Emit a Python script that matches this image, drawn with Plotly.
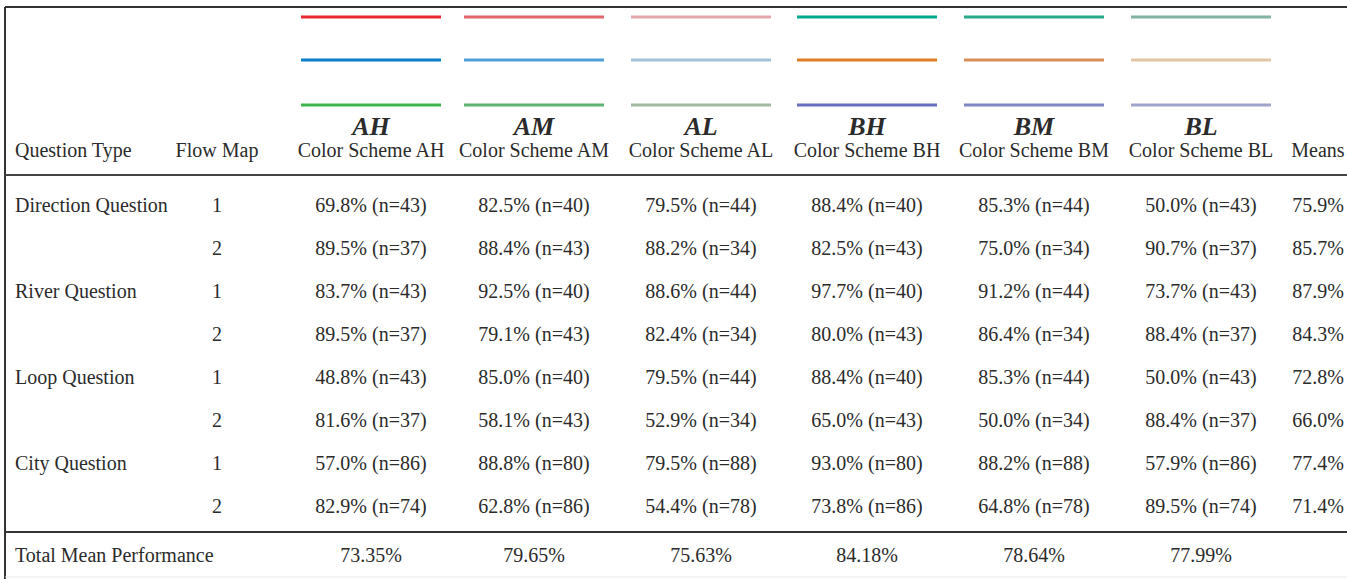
import plotly.graph_objects as go

# ---------------- data ----------------
question_types = ["Direction Question", "", "River Question", "", "Loop Question", "", "City Question", ""]
flow_maps = ["1", "2", "1", "2", "1", "2", "1", "2"]

scheme_codes = ["AH", "AM", "AL", "BH", "BM", "BL"]
scheme_labels = ["Color Scheme AH", "Color Scheme AM", "Color Scheme AL",
                 "Color Scheme BH", "Color Scheme BM", "Color Scheme BL"]

pct_AH = [69.8, 89.5, 83.7, 89.5, 48.8, 81.6, 57.0, 82.9]
n_AH = [43, 37, 43, 37, 43, 37, 86, 74]
pct_AM = [82.5, 88.4, 92.5, 79.1, 85.0, 58.1, 88.8, 62.8]
n_AM = [40, 43, 40, 43, 40, 43, 80, 86]
pct_AL = [79.5, 88.2, 88.6, 82.4, 79.5, 52.9, 79.5, 54.4]
n_AL = [44, 34, 44, 34, 44, 34, 88, 78]
pct_BH = [88.4, 82.5, 97.7, 80.0, 88.4, 65.0, 93.0, 73.8]
n_BH = [40, 43, 40, 43, 40, 43, 80, 86]
pct_BM = [85.3, 75.0, 91.2, 86.4, 85.3, 50.0, 88.2, 64.8]
n_BM = [44, 34, 44, 34, 44, 34, 88, 78]
pct_BL = [50.0, 90.7, 73.7, 88.4, 50.0, 88.4, 57.9, 89.5]
n_BL = [43, 37, 43, 37, 43, 37, 86, 74]

means = [75.9, 85.7, 87.9, 84.3, 72.8, 66.0, 77.4, 71.4]
total_mean = [73.35, 79.65, 75.63, 84.18, 78.64, 77.99]

# colour swatches per scheme (top, middle, bottom)
colors_top = ["#E8282D", "#E0676A", "#E6A7AC", "#00A98B", "#2BAA8B", "#82B2A0"]
colors_mid = ["#0C7FCC", "#4C9FD8", "#A0C4D6", "#E07C22", "#DA8E57", "#E2C6A3"]
colors_bot = ["#3DB54B", "#5DB371", "#9FBA9E", "#6670BF", "#7E86C6", "#A0A4CD"]

pcts = [pct_AH, pct_AM, pct_AL, pct_BH, pct_BM, pct_BL]
ns = [n_AH, n_AM, n_AL, n_BH, n_BM, n_BL]

# ---------------- layout geometry ----------------
W, H = 1347, 579
col_x = [371, 534, 701, 867, 1034, 1201]
means_x = 1318
flow_x = 217
left_x = 15
half_len = 70
swatch_y = [17, 60, 105]
code_y = 128
label_y = 152
row_y = [207 + 43 * i for i in range(len(flow_maps))]
total_y = 557

TXT = "#2b2b2b"
FONT = "Liberation Serif"
FS = 20

fig = go.Figure()

# swatch lines
for i in range(len(scheme_codes)):
    for yy, cols in zip(swatch_y, [colors_top, colors_mid, colors_bot]):
        fig.add_trace(go.Scatter(
            x=[col_x[i] - half_len, col_x[i] + half_len], y=[yy, yy],
            mode="lines", line=dict(color=cols[i], width=3),
            hoverinfo="skip", showlegend=False))

# header codes (bold italic)
fig.add_trace(go.Scatter(
    x=col_x, y=[code_y] * len(col_x), mode="text",
    text=["<b><i>%s</i></b>" % c for c in scheme_codes],
    textposition="middle center",
    textfont=dict(family=FONT, size=26, color=TXT),
    hoverinfo="skip", showlegend=False))

# header labels
fig.add_trace(go.Scatter(
    x=col_x + [flow_x, means_x], y=[label_y] * (len(col_x) + 2), mode="text",
    text=scheme_labels + ["Flow Map", "Means"],
    textposition="middle center",
    textfont=dict(family=FONT, size=FS, color=TXT),
    hoverinfo="skip", showlegend=False))
fig.add_trace(go.Scatter(
    x=[left_x], y=[label_y], mode="text", text=["Question Type"],
    textposition="middle right",
    textfont=dict(family=FONT, size=FS, color=TXT),
    hoverinfo="skip", showlegend=False))

# question types
fig.add_trace(go.Scatter(
    x=[left_x] * len(row_y), y=row_y, mode="text", text=question_types,
    textposition="middle right",
    textfont=dict(family=FONT, size=FS, color=TXT),
    hoverinfo="skip", showlegend=False))

# flow map numbers
fig.add_trace(go.Scatter(
    x=[flow_x] * len(row_y), y=row_y, mode="text", text=flow_maps,
    textposition="middle center",
    textfont=dict(family=FONT, size=FS, color=TXT),
    hoverinfo="skip", showlegend=False))

# body cells
for i in range(len(scheme_codes)):
    fig.add_trace(go.Scatter(
        x=[col_x[i]] * len(row_y), y=row_y, mode="text",
        text=["%.1f%% (n=%d)" % (p, n) for p, n in zip(pcts[i], ns[i])],
        textposition="middle center",
        textfont=dict(family=FONT, size=FS, color=TXT),
        hoverinfo="skip", showlegend=False))

# means
fig.add_trace(go.Scatter(
    x=[means_x] * len(row_y), y=row_y, mode="text",
    text=["%.1f%%" % m for m in means],
    textposition="middle center",
    textfont=dict(family=FONT, size=FS, color=TXT),
    hoverinfo="skip", showlegend=False))

# total row
fig.add_trace(go.Scatter(
    x=[left_x], y=[total_y], mode="text", text=["Total Mean Performance"],
    textposition="middle right",
    textfont=dict(family=FONT, size=FS, color=TXT),
    hoverinfo="skip", showlegend=False))
fig.add_trace(go.Scatter(
    x=col_x, y=[total_y] * len(col_x), mode="text",
    text=["%.2f%%" % t for t in total_mean],
    textposition="middle center",
    textfont=dict(family=FONT, size=FS, color=TXT),
    hoverinfo="skip", showlegend=False))

# rules / borders
shapes = [
    dict(type="line", xref="x", yref="y", x0=5, x1=W, y0=7, y1=7,
         line=dict(color="#333333", width=2)),
    dict(type="line", xref="x", yref="y", x0=5, x1=5, y0=7, y1=H,
         line=dict(color="#333333", width=2)),
    dict(type="line", xref="x", yref="y", x0=5, x1=W, y0=175, y1=175,
         line=dict(color="#444444", width=2)),
    dict(type="line", xref="x", yref="y", x0=5, x1=W, y0=532, y1=532,
         line=dict(color="#333333", width=2)),
    dict(type="line", xref="x", yref="y", x0=5, x1=W, y0=577, y1=577,
         line=dict(color="#e6e6e6", width=1)),
]

fig.update_layout(
    width=W, height=H,
    margin=dict(l=0, r=0, t=0, b=0),
    paper_bgcolor="white", plot_bgcolor="white",
    xaxis=dict(range=[0, W], visible=False, fixedrange=True),
    yaxis=dict(range=[H, 0], visible=False, fixedrange=True),
    shapes=shapes,
    showlegend=False,
)

fig.write_html("out.html",
               config={"displayModeBar": False, "staticPlot": True},
               post_script="document.body.style.margin='0';document.body.style.overflow='hidden';")
